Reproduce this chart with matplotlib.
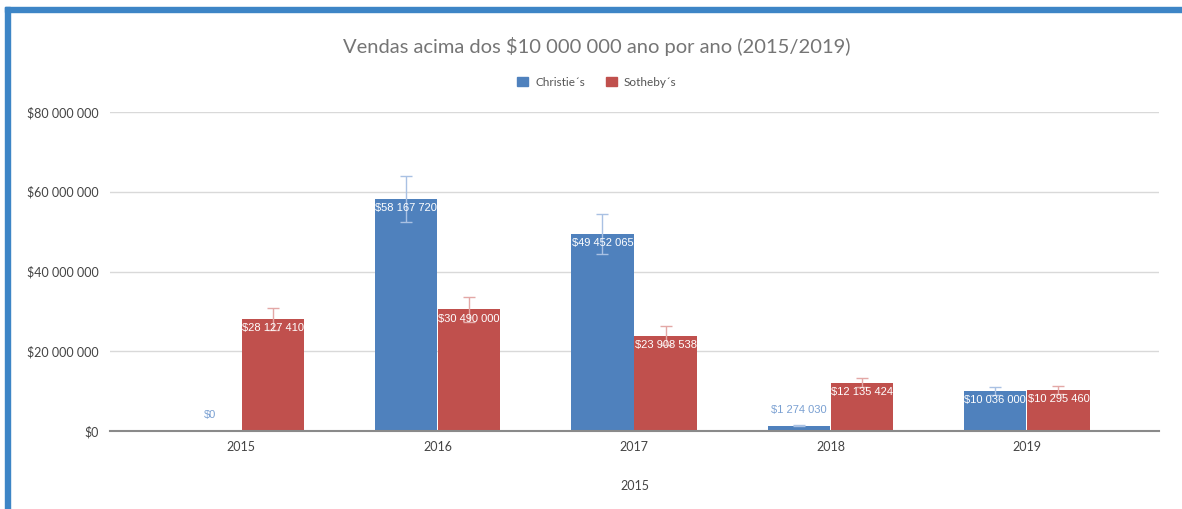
import matplotlib.pyplot as plt
from matplotlib.patches import Rectangle
import numpy as np

plt.rcParams['font.family'] = ['Lato', 'DejaVu Sans']

years = ['2015', '2016', '2017', '2018', '2019']
christies = [0, 58167720, 49452065, 1274030, 10036000]
sothebys = [28127410, 30490000, 23908538, 12135424, 10295460]
error_pct = 0.10  # percent error bars, as set in the sheet

blue = '#4f81bd'
red = '#c0504d'


def money(v):
    return '$' + f'{v:,.0f}'.replace(',', ' ')


fig = plt.figure(figsize=(11.82, 5.09), dpi=100)
ax = fig.add_axes([110 / 1182, 1 - 431 / 509, (1159 - 110) / 1182, (431 - 112) / 509])

x = np.arange(len(years))
w = 0.318
off = 0.161

for vals, col, ecol, sign in [(christies, blue, '#a9c1e3', -1), (sothebys, red, '#e3a8a6', 1)]:
    vals = np.array(vals, dtype=float)
    pos = x + sign * off
    ax.bar(pos, vals, w, color=col, zorder=3)
    ax.errorbar(pos, vals, yerr=vals * error_pct, fmt='none', ecolor=ecol,
                elinewidth=1, capsize=4.5, capthick=1, zorder=4)
    for p, v in zip(pos, vals):
        if v > 5e6:
            ax.annotate(money(v), (p, v), xytext=(0, -3), textcoords='offset points',
                        ha='center', va='top', color='white', fontsize=8,
                        family=['Liberation Sans', 'DejaVu Sans'], zorder=5)
        else:
            ax.annotate(money(v), (p, v), xytext=(0, 8), textcoords='offset points',
                        ha='center', va='bottom', color='#7aa0d2', fontsize=8,
                        family=['Liberation Sans', 'DejaVu Sans'], zorder=5)

ax.set_xlim(-0.5 - 33 / 196.5, 4.5 + 34 / 196.5)
ax.set_ylim(0, 80e6)
ax.set_yticks(np.arange(0, 80e6 + 1, 20e6))
ax.set_yticklabels([money(v) for v in np.arange(0, 80e6 + 1, 20e6)])
ax.set_xticks(x)
ax.set_xticklabels(years)
ax.tick_params(axis='both', length=0, labelsize=9, colors='#444444')
ax.tick_params(axis='y', pad=8)
ax.tick_params(axis='x', pad=7)
ax.grid(axis='y', color='#d9d9d9', lw=1, zorder=0)
for s in ['top', 'right', 'left']:
    ax.spines[s].set_visible(False)
ax.spines['bottom'].set_color('#8a8a8a')
ax.spines['bottom'].set_linewidth(1.5)
ax.spines['bottom'].set_zorder(6)
ax.set_xlabel('2015', fontsize=9, color='#444444', labelpad=20)

fig.text(597 / 1182, 1 - 47 / 509, 'Vendas acima dos $10 000 000 ano por ano (2015/2019)',
         ha='center', va='center', fontsize=14.5, color='#757575')

handles = [Rectangle((0, 0), 1, 1, color=blue), Rectangle((0, 0), 1, 1, color=red)]
fig.legend(handles, ["Christie´s", "Sotheby´s"], loc='center', ncol=2,
           bbox_to_anchor=(597 / 1182, 1 - 82 / 509), frameon=False, fontsize=8.5,
           handlelength=0.9, handleheight=0.9, columnspacing=1.8, handletextpad=0.6,
           labelcolor='#555555')

# blue frame from the screenshot
fig.patches.append(Rectangle((5 / 1182, 1 - 12 / 509), 1, 5 / 509,
                             transform=fig.transFigure, color='#3d85c6', zorder=10))
fig.patches.append(Rectangle((5 / 1182, 0), 5 / 1182, 1 - 7 / 509,
                             transform=fig.transFigure, color='#3d85c6', zorder=10))

fig.savefig('out.png', dpi=100)
